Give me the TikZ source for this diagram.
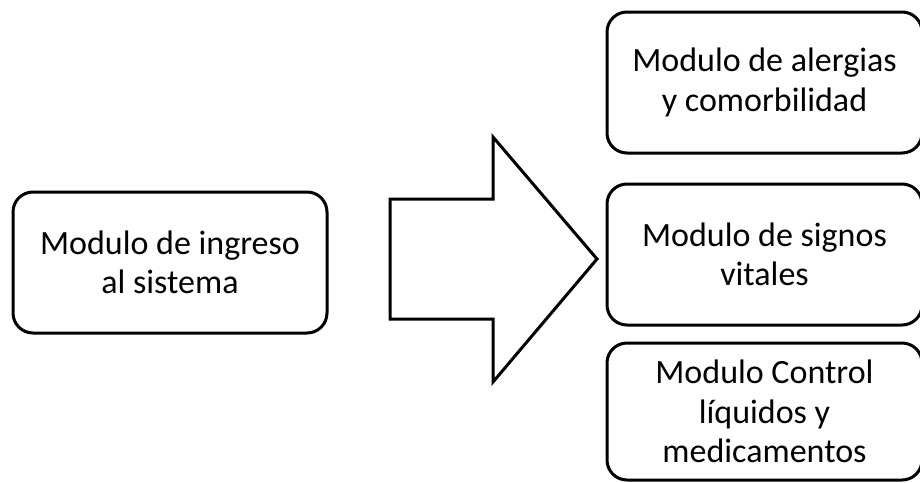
\documentclass[tikz,border=0pt]{standalone}
\usepackage{fontspec}
\setmainfont{Carlito}
\usepackage{tikz}
\usetikzlibrary{positioning}

\tikzset{
	modbox/.style={draw, line width=2.25pt, rounded corners=15pt, align=center,
		font=\fontsize{25.5}{29.5}\selectfont, inner sep=0pt}
}

\begin{document}
\begin{tikzpicture}[x=0.75pt, y=-0.75pt]
		% Marco
		\useasboundingbox (0,0) rectangle (920,482);
		\clip (0,0) rectangle (920,482);

		% Modulo de entrada
		\node[modbox, minimum width=235.5pt, minimum height=105.75pt] (ingreso) at (170,262.5)
			{Modulo de ingreso\\al sistema};

		% Flecha grande
		\draw[line width=2.25pt, line join=miter]
			(390,199) -- (493,199) -- (493,137) -- (597,259)
			-- (493,382) -- (493,319) -- (390,319) -- cycle;

		% Modulos de la derecha
		\node[modbox, minimum width=236.25pt, minimum height=105.75pt] (alergias) at (764.5,82.5)
			{Modulo de alergias\\y comorbilidad};
		\node[modbox, minimum width=236.25pt, minimum height=105.75pt] (signos) at (764.5,254.5)
			{Modulo de signos\\vitales};
		\node[modbox, minimum width=236.25pt, minimum height=102.75pt] (liquidos) at (764.5,411.5)
			{Modulo Control\\líquidos y\\medicamentos};

	\end{tikzpicture}
\end{document}
